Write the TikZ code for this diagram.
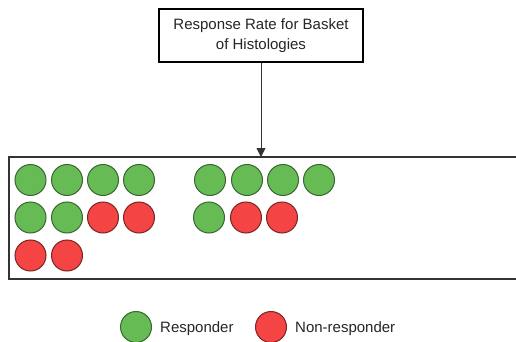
\documentclass[tikz,border=0pt]{standalone}
\usepackage{fontspec}
\setmainfont{Liberation Sans}
\usetikzlibrary{arrows.meta}
\definecolor{respfill}{HTML}{66BB55}
\definecolor{respline}{HTML}{3B6633}
\definecolor{nonfill}{HTML}{F44444}
\definecolor{nonline}{HTML}{7A2424}
\definecolor{frame}{HTML}{333333}
\tikzset{
  titlebox/.style={draw=black, line width=1.3pt, minimum width=204pt, minimum height=53pt,
    align=center, font=\fontsize{15}{20}\selectfont, text=black!85, inner sep=0pt},
  basket/.style={draw=frame, line width=1.5pt},
  resp/.style={circle, draw=respline, fill=respfill, line width=1pt, minimum size=31pt, inner sep=0pt},
  nonresp/.style={circle, draw=nonline, fill=nonfill, line width=1pt, minimum size=31pt, inner sep=0pt},
  legtext/.style={anchor=west, font=\fontsize{15}{18}\selectfont, text=black!85, inner sep=0pt},
  flow/.style={draw=black!80, line width=0.8pt, -{Triangle[width=9pt,length=9pt]}}
}
\begin{document}
\begin{tikzpicture}[x=1pt,y=-1pt]
\useasboundingbox (0,0) rectangle (516,342);
\fill[white] (0,0) rectangle (516,342);

% heading box and the basket frame
\node[titlebox] (title) at (261,35.5) {Response Rate for Basket\\of Histologies};
\draw[basket] (9,157) rectangle (520,279);
\coordinate (basktop) at (261,157);
\draw[flow] (title.south) -- (basktop);

% first group of patients
\node[resp] (a11) at (30.5,180) {};
\node[resp] (a12) at (67,180) {};
\node[resp] (a13) at (103,180) {};
\node[resp] (a14) at (139,180) {};
\node[resp] (a21) at (30.5,217.5) {};
\node[resp] (a22) at (67,217.5) {};
\node[nonresp] (a23) at (103,217.5) {};
\node[nonresp] (a24) at (139,217.5) {};
\node[nonresp] (a31) at (30.5,255.5) {};
\node[nonresp] (a32) at (67,255.5) {};

% second group of patients
\node[resp] (b11) at (210,180) {};
\node[resp] (b12) at (247,180) {};
\node[resp] (b13) at (283,180) {};
\node[resp] (b14) at (319,180) {};
\node[resp] (b21) at (209,217.5) {};
\node[nonresp] (b22) at (246,217.5) {};
\node[nonresp] (b23) at (282,217.5) {};

% legend
\node[resp] (legR) at (136,327) {};
\node[legtext] (legRt) at (160,329) {Responder};
\node[nonresp] (legN) at (271,327) {};
\node[legtext] (legNt) at (295,329) {Non-responder};
\end{tikzpicture}
\end{document}
